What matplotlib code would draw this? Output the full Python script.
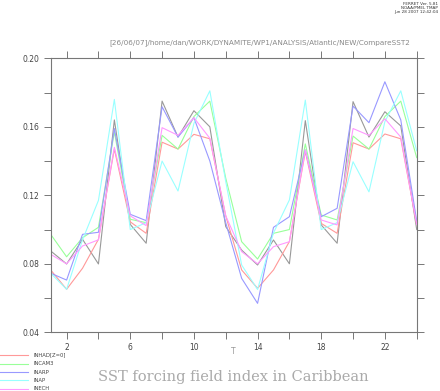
import matplotlib
matplotlib.use("Agg")
import matplotlib.pyplot as plt
import numpy as np

t = list(range(1, 25))
inhad = [0.0764, 0.0651, 0.0774, 0.0943, 0.147, 0.1045, 0.0978, 0.151, 0.147, 0.1556, 0.153, 0.108,
         0.0764, 0.0657, 0.0764, 0.093, 0.1455, 0.1036, 0.0978, 0.1507, 0.147, 0.1558, 0.153, 0.103]
incam3 = [0.0972, 0.0841, 0.0952, 0.1013, 0.157, 0.106, 0.104, 0.155, 0.147, 0.166, 0.175, 0.13,
          0.0929, 0.0828, 0.0978, 0.100, 0.150, 0.1085, 0.1056, 0.1546, 0.147, 0.166, 0.175, 0.142]
inarp = [0.0745, 0.0705, 0.0972, 0.0984, 0.159, 0.1089, 0.1052, 0.1717, 0.154, 0.1653, 0.140, 0.104,
         0.0715, 0.0569, 0.1013, 0.1075, 0.1465, 0.1075, 0.1124, 0.1721, 0.1624, 0.1863, 0.164, 0.105]
inap = [0.0745, 0.0651, 0.094, 0.117, 0.176, 0.100, 0.104, 0.140, 0.1225, 0.162, 0.181, 0.128,
        0.0793, 0.065, 0.098, 0.1173, 0.1756, 0.100, 0.104, 0.1396, 0.122, 0.163, 0.181, 0.146]
inech = [0.0855, 0.080, 0.0904, 0.094, 0.148, 0.108, 0.1023, 0.1595, 0.155, 0.1653, 0.1533, 0.108,
         0.0871, 0.080, 0.090, 0.0929, 0.1465, 0.1056, 0.1027, 0.159, 0.155, 0.1647, 0.154, 0.103]
sixth = [0.0875, 0.0799, 0.0943, 0.0799, 0.164, 0.103, 0.092, 0.175, 0.154, 0.1694, 0.160, 0.1017,
         0.088, 0.0793, 0.0939, 0.080, 0.1636, 0.1027, 0.092, 0.1747, 0.154, 0.1688, 0.1605, 0.100]

names = ["INHAD[Z=0]", "INCAM3", "INARP", "INAP", "INECH"]
series = [inhad, incam3, inarp, inap, inech]
colors = ["#ff9999", "#99ff99", "#9999ff", "#99ffff", "#ff99ff"]

xticks_major = [2, 6, 10, 14, 18, 22]
xticks_minor = [4, 8, 12, 16, 20, 24]
yticks_major = [0.04, 0.08, 0.12, 0.16, 0.20]
yticks_minor = [0.06, 0.10, 0.14, 0.18]

W, H = 440, 391
fig = plt.figure(figsize=(W / 100, H / 100), dpi=100)
ax = fig.add_axes([50.7 / W, 1 - 332.3 / H, (416.7 - 50.7) / W, (332.3 - 58.3) / H])

ax.plot(t, sixth, color="#999999", lw=0.8)
for s, c, n in zip(series, colors, names):
    ax.plot(t, s, color=c, lw=0.8)

ax.set_xlim(1, 24)
ax.set_ylim(0.04, 0.20)
ax.set_xticks(xticks_major)
ax.set_xticklabels([str(v) for v in xticks_major])
ax.set_xticks(xticks_minor, minor=True)
ax.set_yticks(yticks_major)
ax.set_yticklabels(["%.2f" % v for v in yticks_major])
ax.set_yticks(yticks_minor, minor=True)
gray = "#777777"
for sp in ax.spines.values():
    sp.set_color(gray)
    sp.set_linewidth(0.8)
ax.tick_params(which="both", direction="out", length=5, width=0.7, color=gray,
               top=True, right=True, labelsize=5.5, labelcolor="#444444", pad=3)
ax.tick_params(which="minor", length=5)

fig.text(233 / W, 1 - 352 / H, "T", fontsize=5.5, color="#999999", ha="center", va="center")
fig.text(260 / W, 1 - 43 / H,
         "[26/06/07]/home/dan/WORK/DYNAMITE/WP1/ANALYSIS/Atlantic/NEW/CompareSST2",
         fontsize=5.2, color="#888888", ha="center", va="center")
fig.text(438 / W, 1 - 2 / H, "FERRET Ver. 5.81\nNOAA/PMEL TMAP\nJun 28 2007 12:42:04",
         fontsize=3, color="#333333", ha="right", va="top", multialignment="right", linespacing=1.0)
fig.text(233 / W, 1 - 377 / H, "SST forcing field index in Caribbean",
         fontsize=10.5, family="DejaVu Serif", color="#aaaaaa", ha="center", va="center")

rows = [355, 363.7, 372.3, 380.3, 389]
for y, c, n in zip(rows, colors, names):
    fig.add_artist(plt.Line2D([0, 28 / W], [1 - y / H, 1 - y / H], color=c, lw=0.8,
                              transform=fig.transFigure))
    fig.text(34 / W, 1 - y / H, n, fontsize=3.8, color="#444444", ha="left", va="center")

fig.savefig("out.png", dpi=100)
